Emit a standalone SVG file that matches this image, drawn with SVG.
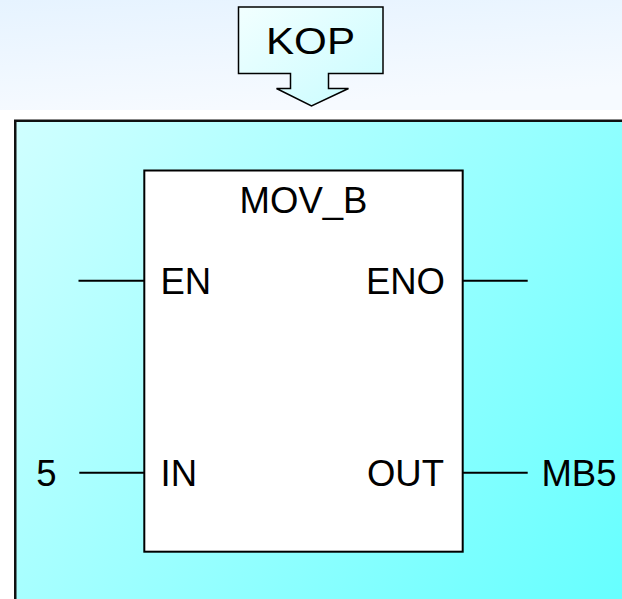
<svg xmlns="http://www.w3.org/2000/svg" width="622" height="599" viewBox="0 0 622 599">
<defs>
<linearGradient id="topbg" x1="0" y1="0" x2="0.3" y2="1">
<stop offset="0" stop-color="#e6f3ff"/>
<stop offset="1" stop-color="#f6faff"/>
</linearGradient>
<linearGradient id="panel" gradientUnits="userSpaceOnUse" x1="15" y1="120" x2="622" y2="599">
<stop offset="0" stop-color="#d0ffff"/>
<stop offset="1" stop-color="#66ffff"/>
</linearGradient>
<linearGradient id="callout" x1="0" y1="0" x2="1" y2="1">
<stop offset="0" stop-color="#f2ffff"/>
<stop offset="1" stop-color="#c8fcff"/>
</linearGradient>
</defs>
<style>
.t{font-family:"Liberation Sans",Arial,sans-serif;font-size:36.5px;fill:#000}
.w{stroke:#000;stroke-width:2;fill:none}
</style>
<rect x="0" y="0" width="622" height="599" fill="#ffffff"/>
<rect x="0" y="0" width="622" height="110" fill="url(#topbg)"/>
<rect id="panel-bg" x="15.25" y="120.75" width="620" height="490" fill="url(#panel)" stroke="#111" stroke-width="2.5"/>
<g id="kop">
<path d="M238.5,7 H383 V73.5 H328.5 V88.5 H348.5 L311.5,106 L276.5,88.5 H290.5 V73.5 H238.5 Z" fill="url(#callout)" stroke="#000" stroke-width="1.5"/>
<text class="t" x="310.5" y="54.3" text-anchor="middle" font-size="37.5" textLength="89" lengthAdjust="spacingAndGlyphs">KOP</text>
</g>
<g id="mov_b">
<rect x="144.3" y="170.5" width="318.4" height="381.2" fill="#ffffff" stroke="#000" stroke-width="2"/>
<text class="t" x="303.5" y="213" text-anchor="middle">MOV_B</text>
<text class="t" x="160.5" y="294">EN</text>
<text class="t" x="445" y="294" text-anchor="end">ENO</text>
<text class="t" x="160.5" y="486">IN</text>
<text class="t" x="444" y="486" text-anchor="end">OUT</text>
</g>
<g id="connectors">
<line class="w" x1="78.5" y1="280.7" x2="144.3" y2="280.7"/>
<line class="w" x1="462.7" y1="280.7" x2="527.7" y2="280.7"/>
<line class="w" x1="79.3" y1="472.7" x2="144.3" y2="472.7"/>
<line class="w" x1="462.7" y1="472.7" x2="527.7" y2="472.7"/>
</g>
<g id="label-5"><text class="t" x="36.3" y="486">5</text></g>
<g id="label-mb5"><text class="t" x="541.4" y="486">MB5</text></g>
</svg>
